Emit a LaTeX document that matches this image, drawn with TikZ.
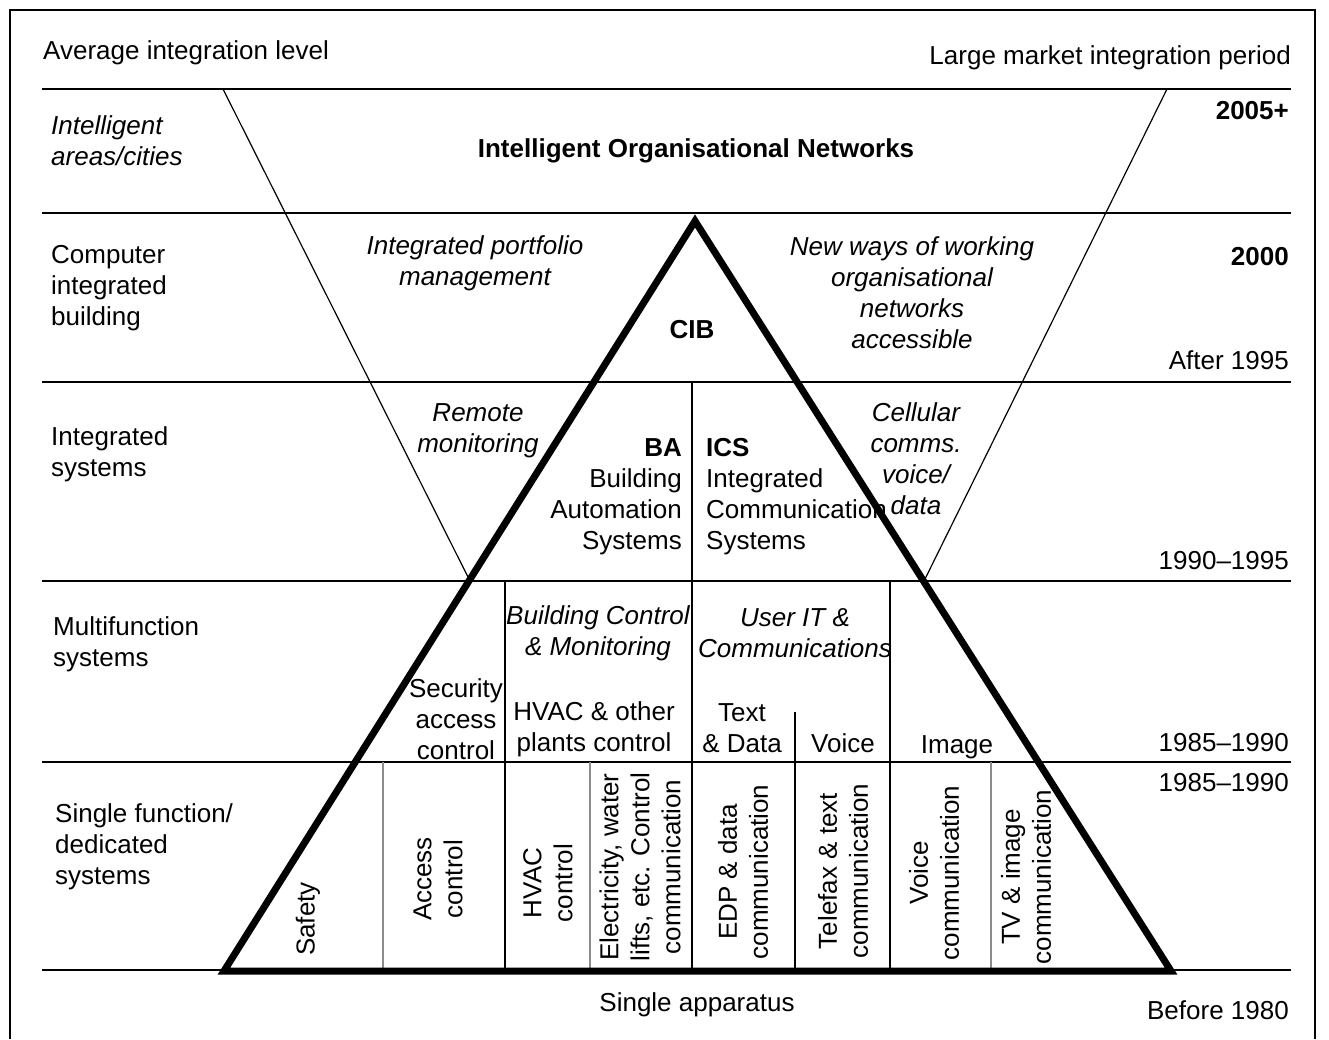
\documentclass[tikz,border=0pt]{standalone}
\usepackage{fontspec}
\setmainfont{Liberation Sans}
\newcommand\diagfont{\fontsize{26}{31}\selectfont}
\begin{document}
\begin{tikzpicture}[x=1pt,y=-1pt,
  every node/.style={inner sep=0pt, font=\diagfont},
  it/.style={font=\diagfont\itshape},
  bf/.style={font=\diagfont\bfseries},
  multi/.style={align=center},
  rowlabel/.style={anchor=west, align=left},
  period/.style={anchor=east},
  rot/.style={rotate=90, align=center},
  frame/.style={line width=2pt},
  rowline/.style={line width=2.4pt},
  divider/.style={line width=1.4pt},
  softdivider/.style={line width=1.6pt, draw=black!45},
  guide/.style={line width=1.2pt},
  pyramid/.style={line width=7pt, line join=miter}]
\useasboundingbox (0,0) rectangle (1329,1039);

% outer frame (open at the bottom)
\draw[frame] (10,1039) -- (10,10) -- (1315,10) -- (1315,1039);

% level boundaries
\foreach \yy in {89,213,382,581,762,970}
  \draw[rowline] (42,\yy) -- (1291,\yy);

% headings
\node[anchor=west] (avg) at (43,53) {Average integration level};
\node[anchor=east] (lmip) at (1291,58) {Large market integration period};

% level names
\node[rowlabel, it] (lv1) at (51,141) {Intelligent\\areas/cities};
\node[rowlabel] (lv2) at (51,288) {Computer\\integrated\\building};
\node[rowlabel] (lv3) at (51,454) {Integrated\\systems};
\node[rowlabel] (lv4) at (53,644) {Multifunction\\systems};
\node[rowlabel] (lv5) at (55,847) {Single function/\\dedicated\\systems};

% periods
\node[period, bf] (p2005) at (1289,111) {2005+};
\node[period, bf] (p2000) at (1289,257) {2000};
\node[period] (p1995) at (1289,360) {After 1995};
\node[period] (p1990) at (1289,561) {1990--1995};
\node[period] (p1985a) at (1289,743) {1985--1990};
\node[period] (p1985b) at (1289,783) {1985--1990};
\node[period] (p1980) at (1289,1010) {Before 1980};

% upper levels
\node[bf] (ion) at (696,151) {Intelligent Organisational Networks};
\node[it, multi] (ipm) at (475,263) {Integrated portfolio\\management};
\node[bf] (cib) at (692,330) {CIB};
\node[it, multi] (nww) at (912,293) {New ways of working\\organisational\\networks\\accessible};
\node[it, multi] (rmon) at (478,431) {Remote\\monitoring};
\node[it, multi] (cell) at (916,459) {Cellular\\comms.\\voice/\\data};
\node[anchor=east, align=right] (ba) at (682,497) {\textbf{BA}\\Building\\Automation\\Systems};
\node[anchor=west, align=left] (ics) at (706,497) {\textbf{ICS}\\Integrated\\Communication\\Systems};

% multifunction level
\node[it, multi] (bcm) at (598,633) {Building Control\\\& Monitoring};
\node[it, multi] (uit) at (795,633) {User IT \&\\Communications};
\node[multi] (sac) at (456,719) {Security\\access\\control};
\node[multi] (hvo) at (594,729) {HVAC \& other\\plants control};
\node[multi] (txt) at (742,728) {Text\\\& Data};
\node (voice) at (843,743) {Voice};
\node (image) at (957,747) {Image};

% single function level
\node[rot] (safety) at (308,919) {Safety};
\node[rot] (acc) at (438,879) {Access\\control};
\node[rot] (hvac) at (548,883) {HVAC\\control};
\node[rot] (elec) at (640,867) {Electricity, water\\lifts, etc. Control\\communication};
\node[rot] (edp) at (743,872) {EDP \& data\\communication};
\node[rot] (tel) at (843,871) {Telefax \& text\\communication};
\node[rot] (vcom) at (934,873) {Voice\\communication};
\node[rot] (tv) at (1026,877) {TV \& image\\communication};

\node (sapp) at (697,1005) {Single apparatus};

% column dividers
\draw[divider] (692,382) -- (692,970);
\draw[divider] (505,581) -- (505,970);
\draw[divider] (890,581) -- (890,970);
\draw[divider] (795,712) -- (795,970);
\draw[softdivider] (383,762) -- (383,970);
\draw[softdivider] (590,762) -- (590,970);
\draw[softdivider] (991,762) -- (991,970);

% inverted integration wedge
\coordinate (wl) at (223,89);
\coordinate (wr) at (1167,89);
\coordinate (wlb) at (469,579);
\coordinate (wrb) at (925,579);
\draw[guide] (wl) -- (wlb);
\draw[guide] (wr) -- (wrb);

% pyramid
\coordinate (apex) at (695,221);
\coordinate (bl) at (224,971);
\coordinate (br) at (1171,971);
\draw[pyramid] (bl) -- (apex) -- (br) -- cycle;
\end{tikzpicture}
\end{document}
